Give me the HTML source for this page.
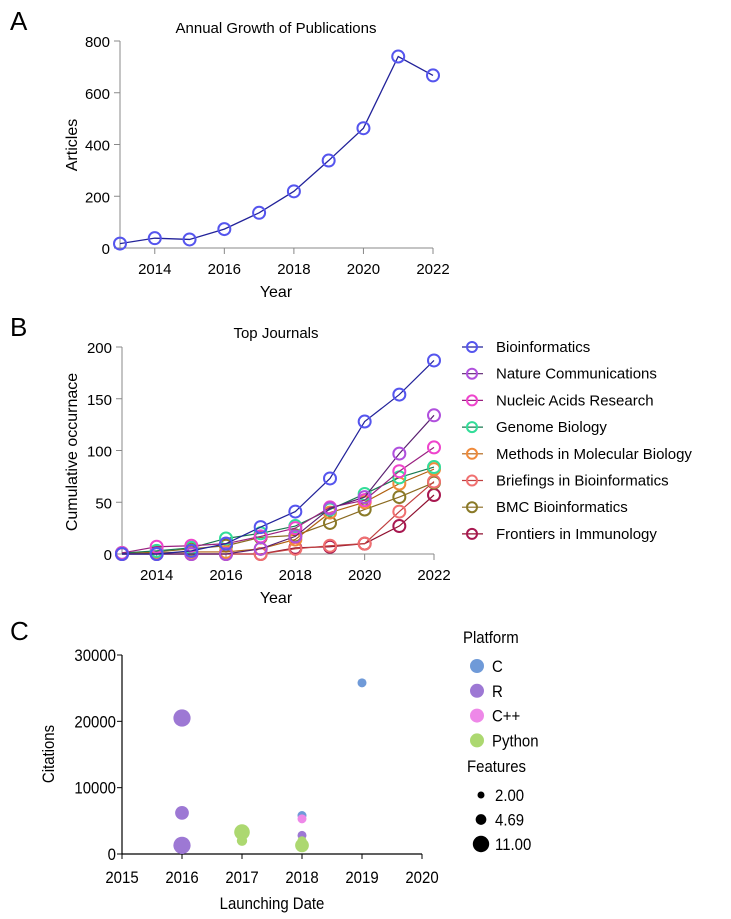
<!DOCTYPE html>
<html><head><meta charset="utf-8"><style>
body{margin:0;background:#fff}
svg{font-family:"Liberation Sans",Arial,sans-serif}
</style></head><body>
<svg id="s" width="731" height="914" xmlns="http://www.w3.org/2000/svg">
<text x="10" y="30" font-size="26">A</text>
<text x="10" y="336" font-size="26">B</text>
<text x="10" y="640" font-size="26">C</text>
<g id="A"></g><g id="B"></g><g id="C"></g>
</svg>
<script>
const NS="http://www.w3.org/2000/svg";
const yearsA=[2013,2014,2015,2016,2017,2018,2019,2020,2021,2022];
const articles=[17,38,33,73,136,219,338,463,740,667];
const ticksA=[0,200,400,600,800];
const xTicks=[2014,2016,2018,2020,2022];
const journals=["Bioinformatics","Nature Communications","Nucleic Acids Research","Genome Biology","Methods in Molecular Biology","Briefings in Bioinformatics","BMC Bioinformatics","Frontiers in Immunology"];
const sBio=[0,0,3,10,26,41,73,128,154,187];
const sNat=[0,0,0,0,5,17,44,55,97,134];
const sNAR=[1,7,8,10,17,25,45,52,80,103];
const sGen=[1,3,6,15,20,27,43,58,74,84];
const sMeth=[1,1,2,2,5,14,40,50,68,82];
const sBrief=[0,0,0,0,0,5,8,10,41,70];
const sBMC=[0,2,5,8,16,18,30,43,55,69];
const sFront=[0,0,0,0,0,6,7,10,27,57];
const ticksB=[0,50,100,150,200];
const platforms=["C","R","C++","Python"];
const toolYear=[2019,2016,2016,2016,2017,2017,2017,2018,2018,2018,2018,2018];
const toolCit=[25800,20500,6200,1300,2400,3300,2000,5800,5300,2800,2000,1300];
const toolPlat=["C","R","R","R","R","Python","Python","C","C++","R","Python","Python"];
const toolFeat=[3,11,7,11,3,9,4,3,3,3,3,7];
const ticksC=[0,10000,20000,30000];
const ticksCx=[2015,2016,2017,2018,2019,2020];
const featLegend=["2.00","4.69","11.00"];
const featLegendV=[2,4.69,11];

function el(p,t,a,txt){const e=document.createElementNS(NS,t);for(const k in a)e.setAttribute(k,a[k]);if(txt!==undefined)e.textContent=txt;p.appendChild(e);return e;}

// Panel A
(function(){
const g=document.getElementById('A');
const x=v=>120+(v-2013)*(433-120)/9, y=v=>248-v*(248-41)/800;
el(g,'text',{x:276,y:33,'font-size':15,'text-anchor':'middle',},'Annual Growth of Publications');
el(g,'line',{x1:120,y1:41,x2:120,y2:248,stroke:'#888',});
el(g,'line',{x1:120,y1:248,x2:433,y2:248,stroke:'#888',});
ticksA.forEach(t=>{el(g,'line',{x1:114,x2:120,y1:y(t),y2:y(t),stroke:'#888'});
const e=el(g,'text',{x:110,y:y(t)+6,'font-size':15,'text-anchor':'end'},t);});
xTicks.forEach(t=>{el(g,'line',{x1:x(t),x2:x(t),y1:248,y2:254,stroke:'#888'});
const e=el(g,'text',{x:x(t),y:274,'font-size':15,'text-anchor':'middle'},t);});
el(g,'text',{x:276,y:297,'font-size':16,'text-anchor':'middle',},'Year');
el(g,'text',{x:77,y:145,'font-size':16,'text-anchor':'middle',transform:'rotate(-90 77 145)',},'Articles');
el(g,'polyline',{points:yearsA.map((v,i)=>x(v)+','+y(articles[i])).join(' '),fill:'none',stroke:'#22229a','stroke-width':1.3,});
yearsA.forEach((v,i)=>{const c=el(g,'circle',{cx:x(v),cy:y(articles[i]),r:6,fill:'none',stroke:'#5555ee','stroke-width':2});});
})();

// Panel B
(function(){
const g=document.getElementById('B');
const series=[sBio,sNat,sNAR,sGen,sMeth,sBrief,sBMC,sFront];
const mc=['#5555ee','#b050dd','#ee44cc','#33dd99','#f08a3a','#f07070','#8a7a28','#a81850'];
const lc=['#22229a','#5a2070','#9a2080','#1a7a50','#b06010','#c04040','#8a6a20','#901030'];
const x=v=>122+(v-2013)*(434-122)/9, y=v=>554-v*(554-347)/200;
el(g,'text',{x:276,y:338,'font-size':15,'text-anchor':'middle',},'Top Journals');
el(g,'line',{x1:122,y1:347,x2:122,y2:554,stroke:'#888',});
el(g,'line',{x1:122,y1:554,x2:434,y2:554,stroke:'#888',});
ticksB.forEach(t=>{el(g,'line',{x1:116,x2:122,y1:y(t),y2:y(t),stroke:'#888'});
const e=el(g,'text',{x:112,y:y(t)+6,'font-size':15,'text-anchor':'end'},t);});
xTicks.forEach(t=>{el(g,'line',{x1:x(t),x2:x(t),y1:554,y2:560,stroke:'#888'});
const e=el(g,'text',{x:x(t),y:580,'font-size':15,'text-anchor':'middle'},t);});
el(g,'text',{x:276,y:603,'font-size':16,'text-anchor':'middle',},'Year');
el(g,'text',{x:77,y:452,'font-size':16,'text-anchor':'middle',transform:'rotate(-90 77 452)',},'Cumulative occurnace');
for(let k=series.length-1;k>=0;k--){const s=series[k];
const pl=el(g,'polyline',{points:yearsA.map((v,i)=>x(v)+','+y(s[i])).join(' '),fill:'none',stroke:lc[k],'stroke-width':1.2});
yearsA.forEach((v,i)=>{const c=el(g,'circle',{cx:x(v),cy:y(s[i]),r:6,fill:'none',stroke:mc[k],'stroke-width':2});});}
journals.forEach((j,k)=>{const yy=347+k*26.7;
const lg=el(g,'g',{});
el(lg,'line',{x1:462,x2:483,y1:yy,y2:yy,stroke:lc[k],'stroke-width':1.2});
el(lg,'circle',{cx:472,cy:yy,r:5,fill:'none',stroke:mc[k],'stroke-width':2});
el(lg,'text',{x:496,y:yy+5,'font-size':15},j);});
})();

// Panel C
(function(){
const g=document.getElementById('C');
const pc={"C":'#6f9ad8',"R":'#9d78d4',"C++":'#ee88e8',"Python":'#acd870'};
const x=v=>122+(v-2015)*60, y=v=>854-v*(854-655)/30000, r=f=>2.6*Math.sqrt(f);
const sx=0.88, fs=17;
el(g,'line',{x1:122,y1:655,x2:122,y2:854,stroke:'#000','stroke-width':1.2,});
el(g,'line',{x1:122,y1:854,x2:422,y2:854,stroke:'#000','stroke-width':1.2,});
ticksC.forEach(t=>{el(g,'line',{x1:117,x2:122,y1:y(t),y2:y(t),stroke:'#000'});
const e=el(g,'text',{x:0,y:0,'font-size':fs,'text-anchor':'end',transform:`translate(116 ${y(t)+6}) scale(${sx} 1)`},t);});
ticksCx.forEach(t=>{el(g,'line',{x1:x(t),x2:x(t),y1:854,y2:859,stroke:'#000'});
const e=el(g,'text',{x:0,y:0,'font-size':fs,'text-anchor':'middle',transform:`translate(${x(t)} 883) scale(${sx} 1)`},t);});
el(g,'text',{x:0,y:0,'font-size':fs,'text-anchor':'middle',transform:`translate(272 909) scale(${sx} 1)`,},'Launching Date');
el(g,'text',{x:0,y:0,'font-size':fs,'text-anchor':'middle',transform:'translate(54 754) rotate(-90) scale(0.88 1)',},'Citations');
toolYear.forEach((v,i)=>{const c=el(g,'circle',{cx:x(v),cy:y(toolCit[i]),r:r(toolFeat[i]),fill:pc[toolPlat[i]]});});
el(g,'text',{x:0,y:0,'font-size':fs,transform:`translate(463 643) scale(${sx} 1)`,},'Platform');
platforms.forEach((p,k)=>{const yy=666+k*24.8;const lg=el(g,'g',{});
el(lg,'circle',{cx:477,cy:yy,r:7,fill:pc[p]});el(lg,'text',{x:0,y:0,'font-size':fs,transform:`translate(492 ${yy+6}) scale(${sx} 1)`},p);});
el(g,'text',{x:0,y:0,'font-size':fs,transform:`translate(467 772) scale(${sx} 1)`,},'Features');
featLegend.forEach((f,k)=>{const yy=795+k*24.5;const lg=el(g,'g',{});
el(lg,'circle',{cx:481,cy:yy,r:2.6*Math.sqrt(featLegendV[k])*0.95,fill:'#000'});el(lg,'text',{x:0,y:0,'font-size':fs,transform:`translate(495 ${yy+6}) scale(${sx} 1)`},f);});
})();
</script>
</body></html>
